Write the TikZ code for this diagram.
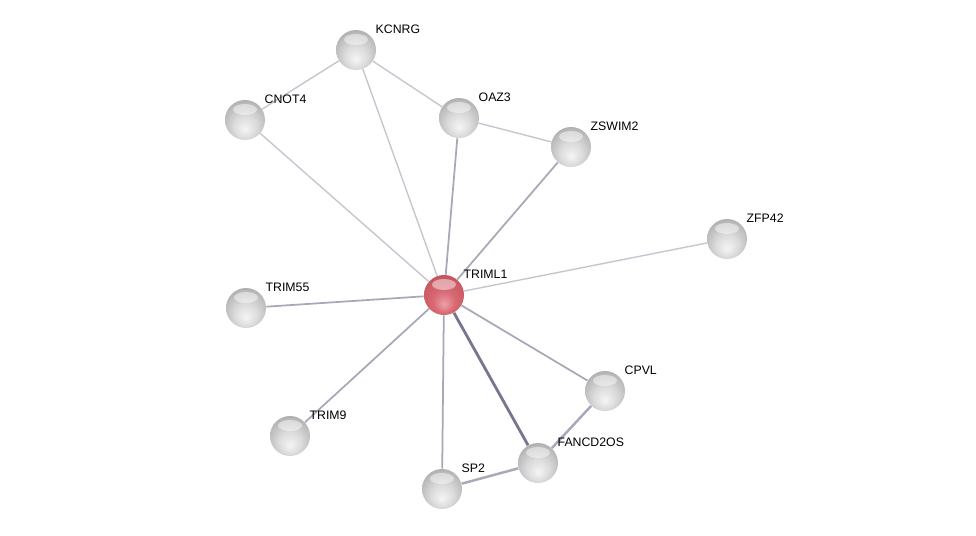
\documentclass[tikz,border=0pt]{standalone}
\usepackage{fontspec}
\setmainfont{Liberation Sans}
\usetikzlibrary{positioning, backgrounds}
\definecolor{edgelight}{RGB}{198,198,208}
\definecolor{edgemid}{RGB}{168,168,184}
\definecolor{edgedark}{RGB}{118,118,142}
\definecolor{hubA}{RGB}{238,160,168}
\definecolor{hubB}{RGB}{215,105,115}
\definecolor{hubC}{RGB}{175,60,70}
\definecolor{hubD}{RGB}{120,30,40}
\pgfdeclareradialshading{protball}{\pgfqpoint{0bp}{-12bp}}{color(0bp)=(white!96!black); color(14bp)=(white!86!black); color(26bp)=(white!74!black); color(38bp)=(white!58!black); color(50bp)=(white!42!black)}
\pgfdeclareradialshading{hubball}{\pgfqpoint{0bp}{-12bp}}{color(0bp)=(hubA); color(14bp)=(hubB); color(26bp)=(hubB!70!hubC); color(38bp)=(hubC); color(50bp)=(hubD)}

\begin{document}
\begin{tikzpicture}[x=0.02cm, y=-0.02cm,
    shine/.style={path picture={\fill[white, opacity=0.45]
        ([yshift=0.21cm]path picture bounding box.center) ellipse (0.24cm and 0.11cm);}},
    prot/.style={circle, minimum size=0.8cm, inner sep=0pt, shading=protball, shine},
    hub/.style={prot, shading=hubball},
    lbl/.style={font=\fontsize{7}{8}\selectfont, anchor=south west, inner sep=1pt},
    weak/.style={draw=edgelight, line width=0.8pt},
    medium/.style={draw=edgemid, line width=1pt},
    strong/.style={draw=edgedark, line width=1.6pt}]
    \useasboundingbox (0,0) rectangle (976,535);
    % proteins
    \node[hub]  (triml1) at (444,295) {};
    \node[prot] (kcnrg) at (356,50) {};
    \node[prot] (cnot4) at (245,120) {};
    \node[prot] (oaz3) at (459,118) {};
    \node[prot] (zswim2) at (571,147) {};
    \node[prot] (zfp42) at (727,239) {};
    \node[prot] (trim55) at (246,308) {};
    \node[prot] (cpvl) at (605,391) {};
    \node[prot] (trim9) at (290,436) {};
    \node[prot] (fancd2os) at (538,463) {};
    \node[prot] (sp2) at (442,489) {};
    % interactions
    \begin{pgfonlayer}{background}
    \path[weak] (kcnrg) -- (cnot4);
    \path[weak] (kcnrg) -- (oaz3);
    \path[weak] (oaz3) -- (zswim2);
    \path[weak] (kcnrg) -- (triml1);
    \path[weak] (cnot4) -- (triml1);
    \path[medium] (oaz3) -- (triml1);
    \path[medium] (zswim2) -- (triml1);
    \path[weak] (zfp42) -- (triml1);
    \path[medium] (trim55) -- (triml1);
    \path[medium] (trim9) -- (triml1);
    \path[medium] (sp2) -- (triml1);
    \path[medium] (cpvl) -- (triml1);
    \path[strong] (fancd2os) -- (triml1);
    \path[medium, line width=1.4pt] (cpvl) -- (fancd2os);
    \path[medium, line width=1.4pt] (sp2) -- (fancd2os);
    \end{pgfonlayer}
    % labels
    \node[lbl] at ([xshift=10pt, yshift=8pt]kcnrg) {KCNRG};
    \node[lbl] at ([xshift=10pt, yshift=8pt]cnot4) {CNOT4};
    \node[lbl] at ([xshift=10pt, yshift=8pt]oaz3) {OAZ3};
    \node[lbl] at ([xshift=10pt, yshift=8pt]zswim2) {ZSWIM2};
    \node[lbl] at ([xshift=10pt, yshift=8pt]zfp42) {ZFP42};
    \node[lbl] at ([xshift=10pt, yshift=8pt]triml1) {TRIML1};
    \node[lbl] at ([xshift=10pt, yshift=8pt]trim55) {TRIM55};
    \node[lbl] at ([xshift=10pt, yshift=8pt]cpvl) {CPVL};
    \node[lbl] at ([xshift=10pt, yshift=8pt]trim9) {TRIM9};
    \node[lbl] at ([xshift=10pt, yshift=8pt]fancd2os) {FANCD2OS};
    \node[lbl] at ([xshift=10pt, yshift=8pt]sp2) {SP2};
\end{tikzpicture}
\end{document}
